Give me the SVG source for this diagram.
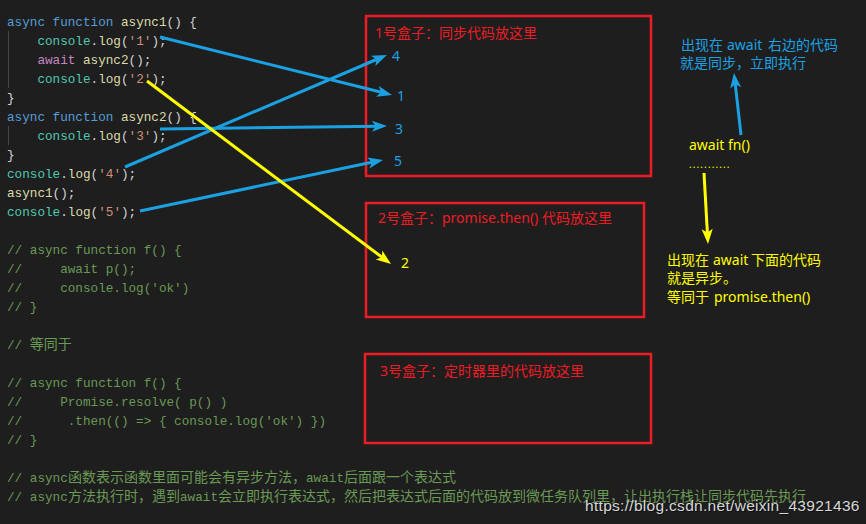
<svg xmlns="http://www.w3.org/2000/svg" width="866" height="524" viewBox="0 0 866 524">
<style>
.code{font-family:"Liberation Mono","DejaVu Sans Mono",monospace;font-size:12.67px;fill:#d4d4d4;white-space:pre}
.cjkc{font-family:"Noto Sans CJK SC",sans-serif;font-size:14px}
.kw{fill:#569cd6}.fn{fill:#dcdcaa}.ty{fill:#4ec9b0}.st{fill:#ce9178}.aw{fill:#c586c0}
.cm{fill:#6a9955}
.box{fill:none;stroke:#ed1c24;stroke-width:2.5}
.btxt{font-family:"Noto Sans","Noto Sans CJK SC",sans-serif;font-size:14px;fill:#ed1c24}
.lbl{font-family:"Noto Sans",sans-serif;font-size:14px}
.note{font-family:"Noto Sans","Noto Sans CJK SC",sans-serif;font-size:14px}
.blue{fill:#1ba1e2}.yel{fill:#ffff00}
.cb{stroke:#1ba1e2;stroke-width:3;fill:none}
.cy{stroke:#ffff00;stroke-width:3;fill:none}
.guide{stroke:#454545;stroke-width:1}
.wm{font-family:"Liberation Sans",Arial,sans-serif;font-size:15.5px;letter-spacing:0.3px}
</style>
<defs>
<marker id="hb" markerUnits="strokeWidth" markerWidth="5" markerHeight="3.7" refX="2" refY="1.85" orient="auto" overflow="visible">
<path d="M0,0 L5,1.85 L0,3.7 L1.2,1.85 Z" fill="#1ba1e2"/>
</marker>
<marker id="hy" markerUnits="strokeWidth" markerWidth="5" markerHeight="3.7" refX="2" refY="1.85" orient="auto" overflow="visible">
<path d="M0,0 L5,1.85 L0,3.7 L1.2,1.85 Z" fill="#ffff00"/>
</marker>
</defs>
<rect width="866" height="524" fill="#1e1e1e"/>

<g id="code">
<line class="guide" x1="8.5" y1="31" x2="8.5" y2="88"/>
<line class="guide" x1="8.5" y1="126" x2="8.5" y2="145"/>
<text class="code" x="7" y="26"><tspan class="kw">async function</tspan> <tspan class="fn">async1</tspan>() {</text>
<text class="code" x="37.4" y="45"><tspan class="ty">console</tspan>.<tspan class="fn">log</tspan>(<tspan class="st">'1'</tspan>);</text>
<text class="code" x="37.4" y="64"><tspan class="aw">await</tspan> <tspan class="fn">async2</tspan>();</text>
<text class="code" x="37.4" y="83"><tspan class="ty">console</tspan>.<tspan class="fn">log</tspan>(<tspan class="st">'2'</tspan>);</text>
<text class="code" x="7" y="102">}</text>
<text class="code" x="7" y="121"><tspan class="kw">async function</tspan> <tspan class="fn">async2</tspan>() {</text>
<text class="code" x="37.4" y="140"><tspan class="ty">console</tspan>.<tspan class="fn">log</tspan>(<tspan class="st">'3'</tspan>);</text>
<text class="code" x="7" y="159">}</text>
<text class="code" x="7" y="178"><tspan class="ty">console</tspan>.<tspan class="fn">log</tspan>(<tspan class="st">'4'</tspan>);</text>
<text class="code" x="7" y="197"><tspan class="fn">async1</tspan>();</text>
<text class="code" x="7" y="216"><tspan class="ty">console</tspan>.<tspan class="fn">log</tspan>(<tspan class="st">'5'</tspan>);</text>

<text class="code cm" x="7" y="254">// async function f() {</text>
<text class="code cm" x="7" y="273">//     await p();</text>
<text class="code cm" x="7" y="292">//     console.log('ok')</text>
<text class="code cm" x="7" y="311">// }</text>
<text class="code cm" x="7" y="349">// <tspan class="cjkc" x="29.8">等同于</tspan></text>
<text class="code cm" x="7" y="387">// async function f() {</text>
<text class="code cm" x="7" y="406">//     Promise.resolve( p() )</text>
<text class="code cm" x="7" y="425">//      .then(() =&gt; { console.log('ok') })</text>
<text class="code cm" x="7" y="444">// }</text>
<text class="code cm" x="7" y="482">// async<tspan class="cjkc" x="68">函数表示函数里面可能会有异步方法，</tspan><tspan x="306">await</tspan><tspan class="cjkc" x="344">后面跟一个表达式</tspan></text>
<text class="code cm" x="7" y="501">// async<tspan class="cjkc" x="68">方法执行时，遇到</tspan><tspan x="180">await</tspan><tspan class="cjkc" x="218">会立即执行表达式，然后把表达式后面的代码放到微任务队列里，让出执行栈让同步代码先执行</tspan></text>
</g>

<g id="box1">
<rect class="box" x="366" y="16" width="285" height="160"/>
<text class="btxt" x="375" y="38">1号盒子：同步代码放这里</text>
</g>
<g id="box2">
<rect class="box" x="366" y="203" width="278" height="114"/>
<text class="btxt" x="378" y="223">2号盒子：promise.then() 代码放这里</text>
</g>
<g id="box3">
<rect class="box" x="365" y="354" width="286" height="89"/>
<text class="btxt" x="380" y="376">3号盒子：定时器里的代码放这里</text>
</g>

<g id="labels">
<text class="lbl blue" x="392" y="61">4</text>
<text class="lbl blue" x="397" y="101">1</text>
<text class="lbl blue" x="395" y="134">3</text>
<text class="lbl blue" x="394" y="166">5</text>
<text class="lbl yel" x="401" y="268">2</text>
</g>

<g id="note-sync">
<text class="note blue" y="50"><tspan x="681">出现在</tspan><tspan x="727">await</tspan><tspan x="768">右边的代码</tspan></text>
<text class="note blue" x="680" y="68">就是同步，立即执行</text>
</g>
<g id="note-await">
<text class="note yel" x="689" y="150">await fn()</text>
<text class="note yel" x="689" y="168" style="font-size:10px;letter-spacing:1.1px">...........</text>
</g>
<g id="note-async">
<text class="note yel" y="265"><tspan x="667">出现在</tspan><tspan x="713">await</tspan><tspan x="751">下面的代码</tspan></text>
<text class="note yel" x="667" y="283">就是异步。</text>
<text class="note yel" y="302"><tspan x="667">等同于</tspan><tspan x="714">promise.then()</tspan></text>
</g>

<g id="connectors">
<line class="cb" x1="160" y1="37" x2="383.3" y2="92.8" marker-end="url(#hb)"/>
<line class="cb" x1="125" y1="167" x2="378.7" y2="58.5" marker-end="url(#hb)"/>
<line class="cb" x1="160" y1="129" x2="378" y2="126.2" marker-end="url(#hb)"/>
<line class="cb" x1="140" y1="211" x2="374.2" y2="161.8" marker-end="url(#hb)"/>
<line class="cy" x1="147" y1="81" x2="383.8" y2="258.6" marker-end="url(#hy)"/>
<line class="cb" x1="741" y1="135" x2="735" y2="81.9" marker-end="url(#hb)"/>
<line class="cy" x1="704" y1="173" x2="707.5" y2="235" marker-end="url(#hy)"/>
</g>

<g id="watermark">
<text class="wm" x="586" y="512" fill="#000" opacity="0.5">https://blog.csdn.net/weixin_43921436</text>
<text class="wm" x="585" y="511" fill="#d8d8d8">https://blog.csdn.net/weixin_43921436</text>
</g>
</svg>
